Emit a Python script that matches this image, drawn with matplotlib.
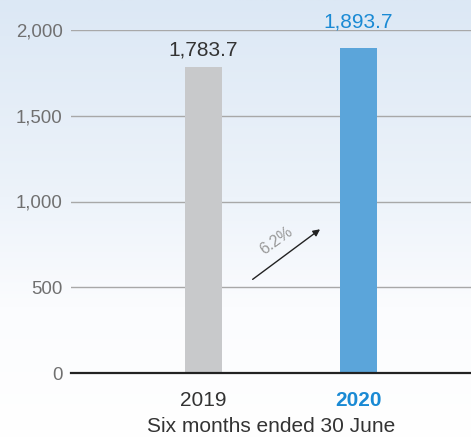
import matplotlib
matplotlib.use("Agg")
import matplotlib.pyplot as plt
import numpy as np
from matplotlib.colors import LinearSegmentedColormap

plt.rcParams['font.family'] = ['Liberation Sans', 'DejaVu Sans']

years = ['2019', '2020']
revenue = [1783.7, 1893.7]
value_labels = ['1,783.7', '1,893.7']
growth_label = '6.2%'
yticks = [0, 500, 1000, 1500, 2000]
ytick_labels = ['0', '500', '1,000', '1,500', '2,000']

bar_colors = ['#c8c9cb', '#5ba5da']
label_colors = ['#333333', '#1a8ad4']

fig = plt.figure(figsize=(4.71, 4.38), dpi=100)

# background: pale blue at top fading to white
bg = fig.add_axes([0, 0, 1, 1], zorder=-10)
cmap = LinearSegmentedColormap.from_list(
    'sky', [(0.0, '#dce8f5'), (0.45, '#edf3fa'), (0.7, '#fbfcfe'), (1.0, '#ffffff')])
grad = np.linspace(0, 1, 256).reshape(-1, 1)
bg.imshow(grad, aspect='auto', cmap=cmap, extent=[0, 1, 0, 1], origin='upper')
bg.axis('off')

ax = fig.add_axes([71 / 471, 65 / 438, 400 / 471, 343 / 438])
ax.set_facecolor('none')

x = np.arange(len(years))
bars = ax.bar(x, revenue, 0.239, color=bar_colors, zorder=3)

ax.set_xlim(-0.855, 1.726)
ax.set_ylim(0, 2000)
ax.set_yticks(yticks)
ax.set_yticklabels(ytick_labels)
ax.set_xticks(x)
ax.set_xticklabels(years)

for spine in ax.spines.values():
    spine.set_visible(False)
ax.axhline(0, color='#222222', lw=1.6, zorder=4, clip_on=False)
ax.grid(axis='y', color='#a8a8a8', lw=1.0, zorder=1)

ax.tick_params(axis='both', length=0)
ax.tick_params(axis='y', pad=6, labelsize=13.4, labelcolor='#707070')
ax.tick_params(axis='x', pad=13, labelsize=15)
tl = ax.get_xticklabels()
tl[0].set_color('#333333')
tl[1].set_color(label_colors[1])
tl[1].set_fontweight('bold')

ax.set_xlabel('Six months ended 30 June', fontsize=15, color='#333333', labelpad=5)

offsets = [12, 19]
for rect, txt, col, off in zip(bars, value_labels, label_colors, offsets):
    ax.annotate(txt, (rect.get_x() + rect.get_width() / 2, rect.get_height()),
                xytext=(0, off), textcoords='offset points',
                ha='center', va='center', fontsize=15, color=col, zorder=5)

# growth arrow
ax.annotate('', xy=(0.752, 838), xytext=(0.317, 546),
            arrowprops=dict(arrowstyle='-|>', color='#222222', lw=1.0,
                            mutation_scale=10, shrinkA=0, shrinkB=0))
ax.text(0.472, 772, growth_label, rotation=36, ha='center', va='center',
        fontsize=11.5, color='#999999')

fig.savefig('out.png', dpi=100)
